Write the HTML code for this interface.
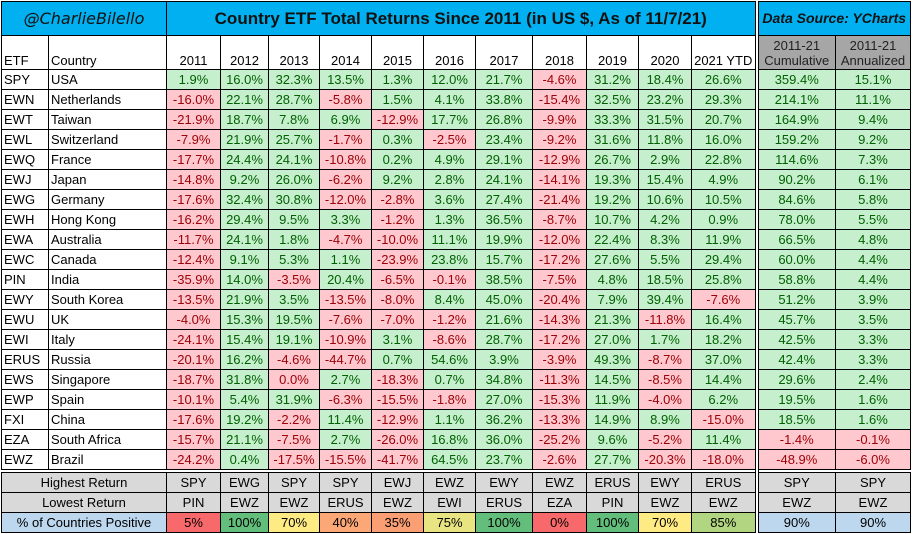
<!DOCTYPE html>
<html><head><meta charset="utf-8"><style>
body{margin:0;background:#fff;width:914px;height:534px;overflow:hidden}
table{border-collapse:collapse;table-layout:fixed;font-family:"Liberation Sans",sans-serif;font-size:13px;position:absolute;left:1px;top:1px}
td{border:1px solid #000;padding:0;height:19px;text-align:center;white-space:nowrap;overflow:hidden;line-height:19px}
td.l{text-align:left;padding-left:2px}
.g{background:#c6efce;color:#006100}
.r{background:#ffc7ce;color:#9c0006}
.t td{background:#00b0f0;height:33px;font-weight:bold;font-size:17px;color:#111}
.h td{height:32px;vertical-align:bottom;line-height:15px;padding-bottom:1px;background:#fff}
.h td.c{background:#a6a6a6;color:#222;font-size:13px}
.s td{background:#d9d9d9;height:19px;line-height:19px}
.p td{background:#bdd7ee;height:19px;line-height:19px}
.dl{border-left:4px double #000}
.sep td{border-top:4px double #000}
</style></head><body>
<table>
<colgroup><col style="width:47px"><col style="width:118px"><col style="width:54px"><col style="width:48px"><col style="width:51px"><col style="width:52px"><col style="width:52px"><col style="width:52px"><col style="width:57px"><col style="width:54px"><col style="width:52px"><col style="width:53px"><col style="width:65px"><col style="width:79px"><col style="width:75px"></colgroup>
<tr class="t"><td colspan="2" style="font-family:'DejaVu Sans',cursive;font-style:italic;font-weight:normal;font-size:16px">@CharlieBilello</td><td colspan="11">Country ETF Total Returns Since 2011 (in US $, As of 11/7/21)</td><td colspan="2" class="dl" style="font-style:italic;font-size:14px">Data Source: YCharts</td></tr>
<tr class="h"><td class="l">ETF</td><td class="l">Country</td><td>2011</td><td>2012</td><td>2013</td><td>2014</td><td>2015</td><td>2016</td><td>2017</td><td>2018</td><td>2019</td><td>2020</td><td>2021 YTD</td><td class="c dl">2011-21<br>Cumulative</td><td class="c">2011-21<br>Annualized</td></tr>
<tr><td class="l">SPY</td><td class="l">USA</td><td class="g">1.9%</td><td class="g">16.0%</td><td class="g">32.3%</td><td class="g">13.5%</td><td class="g">1.3%</td><td class="g">12.0%</td><td class="g">21.7%</td><td class="r">-4.6%</td><td class="g">31.2%</td><td class="g">18.4%</td><td class="g">26.6%</td><td class="g dl">359.4%</td><td class="g">15.1%</td></tr>
<tr><td class="l">EWN</td><td class="l">Netherlands</td><td class="r">-16.0%</td><td class="g">22.1%</td><td class="g">28.7%</td><td class="r">-5.8%</td><td class="g">1.5%</td><td class="g">4.1%</td><td class="g">33.8%</td><td class="r">-15.4%</td><td class="g">32.5%</td><td class="g">23.2%</td><td class="g">29.3%</td><td class="g dl">214.1%</td><td class="g">11.1%</td></tr>
<tr><td class="l">EWT</td><td class="l">Taiwan</td><td class="r">-21.9%</td><td class="g">18.7%</td><td class="g">7.8%</td><td class="g">6.9%</td><td class="r">-12.9%</td><td class="g">17.7%</td><td class="g">26.8%</td><td class="r">-9.9%</td><td class="g">33.3%</td><td class="g">31.5%</td><td class="g">20.7%</td><td class="g dl">164.9%</td><td class="g">9.4%</td></tr>
<tr><td class="l">EWL</td><td class="l">Switzerland</td><td class="r">-7.9%</td><td class="g">21.9%</td><td class="g">25.7%</td><td class="r">-1.7%</td><td class="g">0.3%</td><td class="r">-2.5%</td><td class="g">23.4%</td><td class="r">-9.2%</td><td class="g">31.6%</td><td class="g">11.8%</td><td class="g">16.0%</td><td class="g dl">159.2%</td><td class="g">9.2%</td></tr>
<tr><td class="l">EWQ</td><td class="l">France</td><td class="r">-17.7%</td><td class="g">24.4%</td><td class="g">24.1%</td><td class="r">-10.8%</td><td class="g">0.2%</td><td class="g">4.9%</td><td class="g">29.1%</td><td class="r">-12.9%</td><td class="g">26.7%</td><td class="g">2.9%</td><td class="g">22.8%</td><td class="g dl">114.6%</td><td class="g">7.3%</td></tr>
<tr><td class="l">EWJ</td><td class="l">Japan</td><td class="r">-14.8%</td><td class="g">9.2%</td><td class="g">26.0%</td><td class="r">-6.2%</td><td class="g">9.2%</td><td class="g">2.8%</td><td class="g">24.1%</td><td class="r">-14.1%</td><td class="g">19.3%</td><td class="g">15.4%</td><td class="g">4.9%</td><td class="g dl">90.2%</td><td class="g">6.1%</td></tr>
<tr><td class="l">EWG</td><td class="l">Germany</td><td class="r">-17.6%</td><td class="g">32.4%</td><td class="g">30.8%</td><td class="r">-12.0%</td><td class="r">-2.8%</td><td class="g">3.6%</td><td class="g">27.4%</td><td class="r">-21.4%</td><td class="g">19.2%</td><td class="g">10.6%</td><td class="g">10.5%</td><td class="g dl">84.6%</td><td class="g">5.8%</td></tr>
<tr><td class="l">EWH</td><td class="l">Hong Kong</td><td class="r">-16.2%</td><td class="g">29.4%</td><td class="g">9.5%</td><td class="g">3.3%</td><td class="r">-1.2%</td><td class="g">1.3%</td><td class="g">36.5%</td><td class="r">-8.7%</td><td class="g">10.7%</td><td class="g">4.2%</td><td class="g">0.9%</td><td class="g dl">78.0%</td><td class="g">5.5%</td></tr>
<tr><td class="l">EWA</td><td class="l">Australia</td><td class="r">-11.7%</td><td class="g">24.1%</td><td class="g">1.8%</td><td class="r">-4.7%</td><td class="r">-10.0%</td><td class="g">11.1%</td><td class="g">19.9%</td><td class="r">-12.0%</td><td class="g">22.4%</td><td class="g">8.3%</td><td class="g">11.9%</td><td class="g dl">66.5%</td><td class="g">4.8%</td></tr>
<tr><td class="l">EWC</td><td class="l">Canada</td><td class="r">-12.4%</td><td class="g">9.1%</td><td class="g">5.3%</td><td class="g">1.1%</td><td class="r">-23.9%</td><td class="g">23.8%</td><td class="g">15.7%</td><td class="r">-17.2%</td><td class="g">27.6%</td><td class="g">5.5%</td><td class="g">29.4%</td><td class="g dl">60.0%</td><td class="g">4.4%</td></tr>
<tr><td class="l">PIN</td><td class="l">India</td><td class="r">-35.9%</td><td class="g">14.0%</td><td class="r">-3.5%</td><td class="g">20.4%</td><td class="r">-6.5%</td><td class="r">-0.1%</td><td class="g">38.5%</td><td class="r">-7.5%</td><td class="g">4.8%</td><td class="g">18.5%</td><td class="g">25.8%</td><td class="g dl">58.8%</td><td class="g">4.4%</td></tr>
<tr><td class="l">EWY</td><td class="l">South Korea</td><td class="r">-13.5%</td><td class="g">21.9%</td><td class="g">3.5%</td><td class="r">-13.5%</td><td class="r">-8.0%</td><td class="g">8.4%</td><td class="g">45.0%</td><td class="r">-20.4%</td><td class="g">7.9%</td><td class="g">39.4%</td><td class="r">-7.6%</td><td class="g dl">51.2%</td><td class="g">3.9%</td></tr>
<tr><td class="l">EWU</td><td class="l">UK</td><td class="r">-4.0%</td><td class="g">15.3%</td><td class="g">19.5%</td><td class="r">-7.6%</td><td class="r">-7.0%</td><td class="r">-1.2%</td><td class="g">21.6%</td><td class="r">-14.3%</td><td class="g">21.3%</td><td class="r">-11.8%</td><td class="g">16.4%</td><td class="g dl">45.7%</td><td class="g">3.5%</td></tr>
<tr><td class="l">EWI</td><td class="l">Italy</td><td class="r">-24.1%</td><td class="g">15.4%</td><td class="g">19.1%</td><td class="r">-10.9%</td><td class="g">3.1%</td><td class="r">-8.6%</td><td class="g">28.7%</td><td class="r">-17.2%</td><td class="g">27.0%</td><td class="g">1.7%</td><td class="g">18.2%</td><td class="g dl">42.5%</td><td class="g">3.3%</td></tr>
<tr><td class="l">ERUS</td><td class="l">Russia</td><td class="r">-20.1%</td><td class="g">16.2%</td><td class="r">-4.6%</td><td class="r">-44.7%</td><td class="g">0.7%</td><td class="g">54.6%</td><td class="g">3.9%</td><td class="r">-3.9%</td><td class="g">49.3%</td><td class="r">-8.7%</td><td class="g">37.0%</td><td class="g dl">42.4%</td><td class="g">3.3%</td></tr>
<tr><td class="l">EWS</td><td class="l">Singapore</td><td class="r">-18.7%</td><td class="g">31.8%</td><td class="r">0.0%</td><td class="g">2.7%</td><td class="r">-18.3%</td><td class="g">0.7%</td><td class="g">34.8%</td><td class="r">-11.3%</td><td class="g">14.5%</td><td class="r">-8.5%</td><td class="g">14.4%</td><td class="g dl">29.6%</td><td class="g">2.4%</td></tr>
<tr><td class="l">EWP</td><td class="l">Spain</td><td class="r">-10.1%</td><td class="g">5.4%</td><td class="g">31.9%</td><td class="r">-6.3%</td><td class="r">-15.5%</td><td class="r">-1.8%</td><td class="g">27.0%</td><td class="r">-15.3%</td><td class="g">11.9%</td><td class="r">-4.0%</td><td class="g">6.2%</td><td class="g dl">19.5%</td><td class="g">1.6%</td></tr>
<tr><td class="l">FXI</td><td class="l">China</td><td class="r">-17.6%</td><td class="g">19.2%</td><td class="r">-2.2%</td><td class="g">11.4%</td><td class="r">-12.9%</td><td class="g">1.1%</td><td class="g">36.2%</td><td class="r">-13.3%</td><td class="g">14.9%</td><td class="g">8.9%</td><td class="r">-15.0%</td><td class="g dl">18.5%</td><td class="g">1.6%</td></tr>
<tr><td class="l">EZA</td><td class="l">South Africa</td><td class="r">-15.7%</td><td class="g">21.1%</td><td class="r">-7.5%</td><td class="g">2.7%</td><td class="r">-26.0%</td><td class="g">16.8%</td><td class="g">36.0%</td><td class="r">-25.2%</td><td class="g">9.6%</td><td class="r">-5.2%</td><td class="g">11.4%</td><td class="r dl">-1.4%</td><td class="r">-0.1%</td></tr>
<tr><td class="l">EWZ</td><td class="l">Brazil</td><td class="r">-24.2%</td><td class="g">0.4%</td><td class="r">-17.5%</td><td class="r">-15.5%</td><td class="r">-41.7%</td><td class="g">64.5%</td><td class="g">23.7%</td><td class="r">-2.6%</td><td class="g">27.7%</td><td class="r">-20.3%</td><td class="r">-18.0%</td><td class="r dl">-48.9%</td><td class="r">-6.0%</td></tr>
<tr class="s sep"><td colspan="2">Highest Return</td><td>SPY</td><td>EWG</td><td>SPY</td><td>SPY</td><td>EWJ</td><td>EWZ</td><td>EWY</td><td>EWZ</td><td>ERUS</td><td>EWY</td><td>ERUS</td><td class="dl">SPY</td><td>SPY</td></tr>
<tr class="s"><td colspan="2">Lowest Return</td><td>PIN</td><td>EWZ</td><td>EWZ</td><td>ERUS</td><td>EWZ</td><td>EWI</td><td>ERUS</td><td>EZA</td><td>PIN</td><td>EWZ</td><td>EWZ</td><td class="dl">EWZ</td><td>EWZ</td></tr>
<tr class="p"><td colspan="2">% of Countries Positive</td><td style="background:#f8696b">5%</td><td style="background:#63be7b">100%</td><td style="background:#ffeb84">70%</td><td style="background:#fba776">40%</td><td style="background:#fa9f74">35%</td><td style="background:#e8e482">75%</td><td style="background:#63be7b">100%</td><td style="background:#f8696b">0%</td><td style="background:#63be7b">100%</td><td style="background:#ffeb84">70%</td><td style="background:#b1d580">85%</td><td class="dl">90%</td><td>90%</td></tr>
</table>
</body></html>
